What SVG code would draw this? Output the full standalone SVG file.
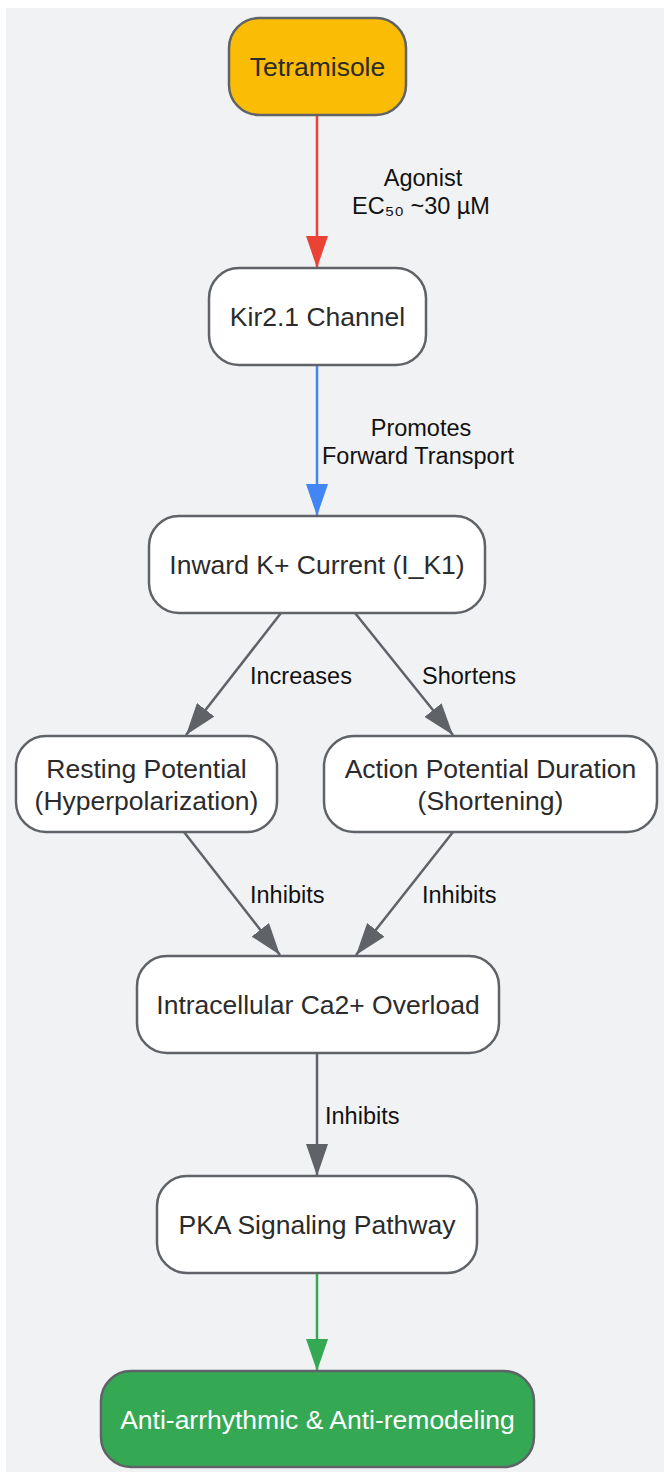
<svg xmlns="http://www.w3.org/2000/svg" width="664" height="1472" viewBox="0 0 664 1472">
<style>
.node rect{stroke:#5f6368;stroke-width:2.5;fill:#ffffff}
.nt{font-family:"Liberation Sans",Arial,sans-serif;font-size:26.5px;fill:#2b2b2b;text-anchor:middle}
.el{font-family:"Liberation Sans",Arial,sans-serif;font-size:23.5px;fill:#111111}
.c{fill:none;stroke-width:2.5}
</style>
<defs>
<marker id="ar" markerUnits="userSpaceOnUse" markerWidth="32" markerHeight="22" refX="32" refY="11" orient="auto"><path d="M0,0 L32,11 L0,22 z" fill="#ea4335"/></marker>
<marker id="ab" markerUnits="userSpaceOnUse" markerWidth="32" markerHeight="22" refX="32" refY="11" orient="auto"><path d="M0,0 L32,11 L0,22 z" fill="#4285f4"/></marker>
<marker id="ag" markerUnits="userSpaceOnUse" markerWidth="32" markerHeight="22" refX="32" refY="11" orient="auto"><path d="M0,0 L32,11 L0,22 z" fill="#5f6368"/></marker>
<marker id="an" markerUnits="userSpaceOnUse" markerWidth="32" markerHeight="22" refX="32" refY="11" orient="auto"><path d="M0,0 L32,11 L0,22 z" fill="#34a853"/></marker>
</defs>
<rect x="6" y="8" width="658" height="1464" fill="#f1f2f4"/>
<g id="connectors">
<line class="c" x1="317" y1="115" x2="317" y2="268" stroke="#ea4335" marker-end="url(#ar)"/>
<line class="c" x1="317" y1="365" x2="317" y2="516" stroke="#4285f4" marker-end="url(#ab)"/>
<line class="c" x1="281" y1="613" x2="186" y2="735" stroke="#5f6368" marker-end="url(#ag)"/>
<line class="c" x1="355" y1="613" x2="453" y2="735" stroke="#5f6368" marker-end="url(#ag)"/>
<line class="c" x1="184" y1="832" x2="280" y2="955" stroke="#5f6368" marker-end="url(#ag)"/>
<line class="c" x1="453" y1="832" x2="356" y2="955" stroke="#5f6368" marker-end="url(#ag)"/>
<line class="c" x1="317" y1="1053" x2="317" y2="1176" stroke="#5f6368" marker-end="url(#ag)"/>
<line class="c" x1="317" y1="1273" x2="317" y2="1371" stroke="#34a853" marker-end="url(#an)"/>
<text class="el" x="423" y="186" text-anchor="middle">Agonist</text>
<text class="el" x="421" y="214" text-anchor="middle">EC₅₀ ~30 µM</text>
<text class="el" x="421" y="436" text-anchor="middle">Promotes</text>
<text class="el" x="418" y="464" text-anchor="middle">Forward Transport</text>
<text class="el" x="250" y="684">Increases</text>
<text class="el" x="422" y="684">Shortens</text>
<text class="el" x="250" y="903">Inhibits</text>
<text class="el" x="422" y="903">Inhibits</text>
<text class="el" x="325" y="1124">Inhibits</text>
</g>
<g id="n-tetramisole" class="node"><rect x="229" y="18" width="177" height="97" rx="30"/><text class="nt" x="317.5" y="76">Tetramisole</text></g>
<g id="n-kir" class="node"><rect x="209" y="268" width="217" height="97" rx="30"/><text class="nt" x="317.5" y="326">Kir2.1 Channel</text></g>
<g id="n-ik1" class="node"><rect x="149" y="516" width="336" height="97" rx="30"/><text class="nt" x="317" y="574">Inward K+ Current (I_K1)</text></g>
<g id="n-resting" class="node"><rect x="16" y="736" width="261" height="96" rx="30"/><text class="nt" x="146.5" y="778">Resting Potential</text><text class="nt" x="146.5" y="810">(Hyperpolarization)</text></g>
<g id="n-apd" class="node"><rect x="324" y="736" width="333" height="96" rx="30"/><text class="nt" x="490.5" y="778">Action Potential Duration</text><text class="nt" x="490.5" y="810">(Shortening)</text></g>
<g id="n-ca" class="node"><rect x="137" y="956" width="362" height="97" rx="30"/><text class="nt" x="318" y="1014">Intracellular Ca2+ Overload</text></g>
<g id="n-pka" class="node"><rect x="157" y="1176" width="320" height="97" rx="30"/><text class="nt" x="317" y="1234">PKA Signaling Pathway</text></g>
<g id="n-anti" class="node"><rect x="101" y="1371" width="433" height="96" rx="30"/><text class="nt" x="317.5" y="1429" style="fill:#ffffff">Anti-arrhythmic &amp; Anti-remodeling</text></g>
<style>#n-tetramisole rect{fill:#fbbc05}#n-anti rect{fill:#34a853}</style>
</svg>
